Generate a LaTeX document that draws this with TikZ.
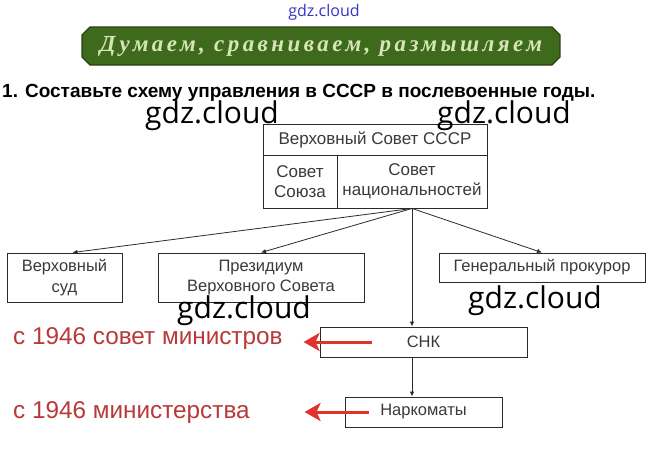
\documentclass[tikz,border=0pt]{standalone}
\usepackage{fontspec}
\setmainfont{Liberation Sans}
\newfontfamily\bannerfont{Liberation Serif}
\newfontfamily\wmfont{Open Sans}
\usepackage{xcolor}
\usepackage{tikz}
\usetikzlibrary{
  arrows.meta,
  positioning,
  calc
}
\tikzset{
  base/.style={
    rectangle, align=center, inner sep=0pt,
    draw=boxStroke, fill=white, text=boxTxt, line width=0.9pt
  },
  box nd/.style={
    base, font=\fontsize{16.5}{20.5}\selectfont
  },
  top nd/.style={
    base, font=\fontsize{17}{20}\selectfont
  },
  arr/.style={-{Latex[length=5pt,width=4.5pt]},
    line width=0.8pt, color=boxStroke},
  red arr/.style={-{Stealth[length=16pt,width=18pt,inset=4pt]},
    line width=3pt, color=redArrow},
  red lbl/.style={anchor=west, inner sep=0pt, text=redTxt,
    font=\fontsize{24.3}{27}\selectfont},
  wm/.style={anchor=base west, inner sep=0pt, text=black,
    font=\wmfont\fontsize{30}{34}\selectfont}
}
\definecolor{boxStroke}{HTML}{2A2A2A}
\definecolor{boxTxt}{HTML}{3A3A3A}
\definecolor{redArrow}{HTML}{E0332B}
\definecolor{redTxt}{HTML}{B8393A}
\definecolor{bannerDark}{HTML}{3E6A1C}
\definecolor{bannerMid}{HTML}{5C8C30}
\definecolor{bannerStroke}{HTML}{2A3E16}
\definecolor{bannerTxt}{HTML}{D6E5B6}
\definecolor{siteBlue}{HTML}{3434C8}

\begin{document}
\begin{tikzpicture}[x=1pt, y=-1pt,
    title/.style={anchor=base west, inner sep=0pt,
      font=\bfseries\fontsize{19}{22}\selectfont},
    banner txt/.style={inner sep=0pt, text=bannerTxt,
      font=\bannerfont\bfseries\itshape\fontsize{23}{25}\selectfont}
    ]
    \useasboundingbox (0,0) rectangle (648,461);

    % heading
    \node[inner sep=0pt, text=siteBlue, font=\wmfont\fontsize{16}{18}\selectfont]
      (site) at (324,12) {gdz.cloud};
    \shadedraw[top color=bannerDark, middle color=bannerMid,
      bottom color=bannerDark, draw=bannerStroke, line width=1.2pt]
      (90,27) -- (552,27) -- (560,35) -- (560,57) -- (552,65)
      -- (90,65) -- (82,57) -- (82,35) -- cycle;
    \node[banner txt] (banner) at (321,46)
      {\addfontfeature{LetterSpace=15}Думаем, сравниваем, размышляем};
    \node[title] (ttl) at (2,97)
      {1. Составьте схему управления в СССР в послевоенные годы.};

    % Верховный Совет
    \node[top nd, minimum width=224pt, minimum height=31pt]
      (vs) at (375,139.5) {Верховный Совет СССР};
    \node[top nd, minimum width=74pt, minimum height=53pt]
      (union) at (300,181.5) {Совет\\Союза};
    \node[top nd, minimum width=150pt, minimum height=53pt]
      (nats) at (412,181.5) {Совет\\национальностей};

    % second level
    \node[box nd, minimum width=115pt, minimum height=49pt]
      (court) at (64.5,277.5) {Верховный\\суд};
    \node[box nd, minimum width=206pt, minimum height=49pt]
      (presid) at (261,277.5) {Президиум\\Верховного Совета};
    \node[box nd, minimum width=206pt, minimum height=29pt]
      (prosec) at (542,267.5) {Генеральный прокурор};
    \node[box nd, minimum width=207pt, minimum height=30pt]
      (snk) at (423.5,342) {СНК};
    \node[box nd, minimum width=157pt, minimum height=30pt]
      (nark) at (423.5,412) {Наркоматы};

    \draw[arr] (nats.south) -- ([xshift=8pt]court.north);
    \draw[arr] (nats.south) -- (presid.north);
    \draw[arr] (nats.south) -- (prosec.north);
    \draw[arr] (nats.south) -- (nats.south |- snk.north);
    \draw[arr] (nats.south |- snk.south) -- (nats.south |- nark.north);

    % after 1946
    \node[red lbl] (minsov) at (13,339) {с 1946 совет министров};
    \node[red lbl] (minist) at (13,413) {с 1946 министерства};
    \draw[red arr] ([xshift=52pt]snk.west) -- ([xshift=-16pt]snk.west);
    \draw[red arr] ([xshift=24pt]nark.west) -- ([xshift=-40pt]nark.west);

    % watermarks
    \node[wm] (wmA) at (145,123) {gdz.cloud};
    \node[wm] (wmB) at (437,123) {gdz.cloud};
    \node[wm] (wmC) at (177,318) {gdz.cloud};
    \node[wm] (wmD) at (468,308) {gdz.cloud};

  \end{tikzpicture}
\end{document}
